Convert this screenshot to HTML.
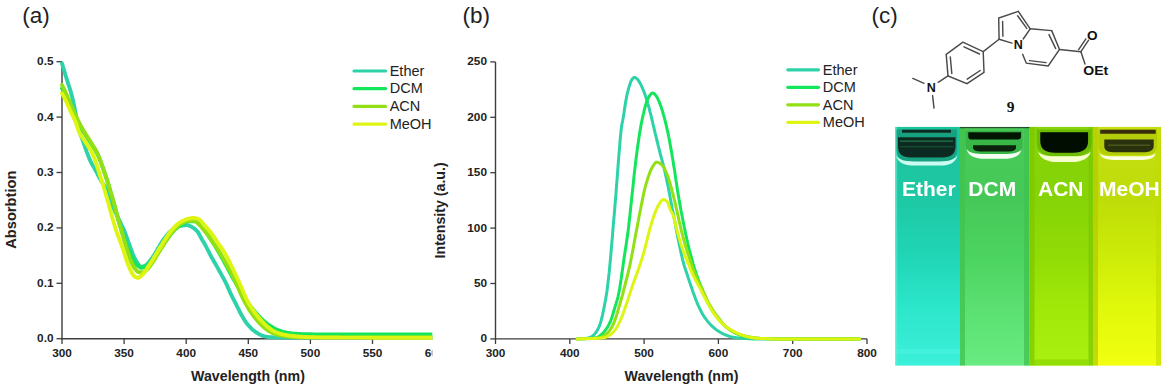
<!DOCTYPE html>
<html><head><meta charset="utf-8">
<style>
html,body{margin:0;padding:0;background:#fff;}
body{width:1166px;height:389px;position:relative;overflow:hidden;font-family:"Liberation Sans",sans-serif;}
.abs{position:absolute;left:0;top:0;}
.tk{font-family:"Liberation Sans",sans-serif;font-weight:bold;font-size:11.8px;fill:#222;}
.al{font-family:"Liberation Sans",sans-serif;font-weight:bold;font-size:14.2px;fill:#222;}
.lg{font-family:"Liberation Sans",sans-serif;font-size:14.5px;fill:#222;}
.pl{font-family:"Liberation Sans",sans-serif;font-size:22.5px;fill:#222;}
.at{font-family:"Liberation Sans",sans-serif;font-weight:bold;font-size:12.5px;fill:#111;}
.at2{font-family:"Liberation Sans",sans-serif;font-weight:bold;font-size:13.6px;fill:#111;}
.nine{font-family:"Liberation Serif",serif;font-weight:bold;font-size:15.5px;fill:#111;}
.photo{position:absolute;left:895px;top:127px;width:266px;height:238px;overflow:hidden;}
.cv{position:absolute;top:0;height:238px;}
.men{position:absolute;}
.hl{position:absolute;box-sizing:border-box;}
.wall{position:absolute;top:0;height:238px;width:5px;}
.lab{position:absolute;top:51px;font-family:"Liberation Sans",sans-serif;font-weight:bold;font-size:19.8px;color:#fff;line-height:20px;}
</style></head><body>
<svg class="abs" width="1166" height="389" viewBox="0 0 1166 389">
<defs><clipPath id="ca"><rect x="0" y="0" width="432.3" height="389"/></clipPath></defs>
<g clip-path="url(#ca)">
<line x1="62" y1="61.7" x2="62" y2="339.2" stroke="#3d3d3d" stroke-width="1.4"/>
<line x1="62" y1="338.7" x2="433" y2="338.7" stroke="#3d3d3d" stroke-width="1.4"/>
<line x1="56.5" y1="338.7" x2="62" y2="338.7" stroke="#3d3d3d" stroke-width="1.3"/>
<text x="53.5" y="342.1" text-anchor="end" class="tk">0.0</text>
<line x1="56.5" y1="283.3" x2="62" y2="283.3" stroke="#3d3d3d" stroke-width="1.3"/>
<text x="53.5" y="286.7" text-anchor="end" class="tk">0.1</text>
<line x1="56.5" y1="227.9" x2="62" y2="227.9" stroke="#3d3d3d" stroke-width="1.3"/>
<text x="53.5" y="231.3" text-anchor="end" class="tk">0.2</text>
<line x1="56.5" y1="172.5" x2="62" y2="172.5" stroke="#3d3d3d" stroke-width="1.3"/>
<text x="53.5" y="175.9" text-anchor="end" class="tk">0.3</text>
<line x1="56.5" y1="117.1" x2="62" y2="117.1" stroke="#3d3d3d" stroke-width="1.3"/>
<text x="53.5" y="120.5" text-anchor="end" class="tk">0.4</text>
<line x1="56.5" y1="61.7" x2="62" y2="61.7" stroke="#3d3d3d" stroke-width="1.3"/>
<text x="53.5" y="65.1" text-anchor="end" class="tk">0.5</text>
<line x1="62.0" y1="338.7" x2="62.0" y2="344" stroke="#3d3d3d" stroke-width="1.3"/>
<text x="62.0" y="357.3" text-anchor="middle" class="tk">300</text>
<line x1="124.1" y1="338.7" x2="124.1" y2="344" stroke="#3d3d3d" stroke-width="1.3"/>
<text x="124.1" y="357.3" text-anchor="middle" class="tk">350</text>
<line x1="186.2" y1="338.7" x2="186.2" y2="344" stroke="#3d3d3d" stroke-width="1.3"/>
<text x="186.2" y="357.3" text-anchor="middle" class="tk">400</text>
<line x1="248.3" y1="338.7" x2="248.3" y2="344" stroke="#3d3d3d" stroke-width="1.3"/>
<text x="248.3" y="357.3" text-anchor="middle" class="tk">450</text>
<line x1="310.4" y1="338.7" x2="310.4" y2="344" stroke="#3d3d3d" stroke-width="1.3"/>
<text x="310.4" y="357.3" text-anchor="middle" class="tk">500</text>
<line x1="372.5" y1="338.7" x2="372.5" y2="344" stroke="#3d3d3d" stroke-width="1.3"/>
<text x="372.5" y="357.3" text-anchor="middle" class="tk">550</text>
<line x1="434.6" y1="338.7" x2="434.6" y2="344" stroke="#3d3d3d" stroke-width="1.3"/>
<text x="434.6" y="357.3" text-anchor="middle" class="tk">600</text>
<polyline points="62.0,63.4 63.2,67.5 64.5,71.7 65.7,75.8 67.0,79.8 68.2,83.9 69.5,87.7 70.7,91.5 71.9,95.9 73.2,101.3 74.4,107.1 75.7,113.6 76.9,120.6 78.1,126.7 79.4,131.2 80.6,134.8 81.9,138.1 83.1,141.5 84.4,145.1 85.6,148.7 86.8,152.1 88.1,155.4 89.3,158.6 90.6,161.4 91.8,163.8 93.0,166.0 94.3,168.0 95.5,170.2 96.8,172.5 98.0,175.1 99.3,177.5 100.5,179.6 101.7,181.7 103.0,183.7 104.2,185.8 105.5,188.0 106.7,190.3 108.0,193.0 109.2,197.1 110.4,201.3 111.7,204.4 112.9,207.0 114.2,209.6 115.4,212.2 116.6,214.8 117.9,217.4 119.1,220.0 120.4,222.5 121.6,225.1 122.9,227.7 124.1,230.3 125.3,233.4 126.6,236.9 127.8,240.5 129.1,244.0 130.3,247.5 131.6,250.8 132.8,253.9 134.0,256.8 135.3,259.5 136.5,261.7 137.8,263.6 139.0,265.4 140.2,266.5 141.5,266.6 142.7,266.4 144.0,266.0 145.2,265.6 146.5,264.8 147.7,263.6 148.9,262.1 150.2,260.6 151.4,259.0 152.7,257.1 153.9,255.2 155.2,253.2 156.4,251.2 157.6,249.1 158.9,247.0 160.1,244.8 161.4,242.7 162.6,240.8 163.8,239.0 165.1,237.4 166.3,235.8 167.6,234.3 168.8,232.9 170.1,231.7 171.3,230.7 172.5,229.7 173.8,228.8 175.0,227.9 176.3,227.2 177.5,226.6 178.7,226.2 180.0,226.0 181.2,225.7 182.5,225.5 183.7,225.3 185.0,225.2 186.2,225.1 187.4,225.1 188.7,225.4 189.9,226.0 191.2,226.6 192.4,227.3 193.7,228.1 194.9,229.0 196.1,230.1 197.4,231.4 198.6,233.2 199.9,235.6 201.1,237.9 202.3,240.0 203.6,242.1 204.8,244.3 206.1,246.6 207.3,249.0 208.6,251.4 209.8,253.9 211.0,256.2 212.3,258.4 213.5,260.6 214.8,262.7 216.0,264.9 217.2,267.1 218.5,269.4 219.7,271.6 221.0,273.9 222.2,276.1 223.5,278.4 224.7,280.6 225.9,283.0 227.2,285.7 228.4,288.5 229.7,291.4 230.9,294.2 232.2,296.7 233.4,299.1 234.6,301.4 235.9,303.8 237.1,306.3 238.4,308.8 239.6,311.3 240.8,313.8 242.1,316.0 243.3,318.1 244.6,320.2 245.8,322.1 247.1,323.8 248.3,325.2 249.5,326.5 250.8,327.9 252.0,329.2 253.3,330.3 254.5,331.2 255.8,332.1 257.0,332.9 258.2,333.7 259.5,334.3 260.7,334.9 262.0,335.5 263.2,336.0 264.4,336.3 265.7,336.6 266.9,336.9 268.2,337.0 269.4,337.2 270.7,337.2 271.9,337.3 273.1,337.4 274.4,337.4 275.6,337.5 276.9,337.5 278.1,337.5 279.4,337.5 280.6,337.6 281.8,337.6 283.1,337.6 284.3,337.6 285.6,337.6 286.8,337.6 288.0,337.6 289.3,337.6 290.5,337.6 291.8,337.6 293.0,337.6 294.3,337.6 295.5,337.6 296.7,337.6 298.0,337.6 299.2,337.6 300.5,337.6 301.7,337.6 302.9,337.6 304.2,337.6 305.4,337.6 306.7,337.6 307.9,337.6 309.2,337.6 310.4,337.6 311.6,337.6 312.9,337.6 314.1,337.6 315.4,337.6 316.6,337.6 317.9,337.6 319.1,337.6 320.3,337.6 321.6,337.6 322.8,337.6 324.1,337.6 325.3,337.6 326.5,337.6 327.8,337.6 329.0,337.6 330.3,337.6 331.5,337.6 332.8,337.6 334.0,337.6 335.2,337.6 336.5,337.6 337.7,337.6 339.0,337.6 340.2,337.6 341.4,337.6 342.7,337.6 343.9,337.6 345.2,337.6 346.4,337.6 347.7,337.6 348.9,337.6 350.1,337.6 351.4,337.6 352.6,337.6 353.9,337.6 355.1,337.6 356.4,337.6 357.6,337.6 358.8,337.6 360.1,337.6 361.3,337.6 362.6,337.6 363.8,337.6 365.0,337.6 366.3,337.6 367.5,337.6 368.8,337.6 370.0,337.6 371.3,337.6 372.5,337.6 373.7,337.6 375.0,337.6 376.2,337.6 377.5,337.6 378.7,337.6 380.0,337.6 381.2,337.6 382.4,337.6 383.7,337.6 384.9,337.6 386.2,337.6 387.4,337.6 388.6,337.6 389.9,337.6 391.1,337.6 392.4,337.6 393.6,337.6 394.9,337.6 396.1,337.6 397.3,337.6 398.6,337.6 399.8,337.6 401.1,337.6 402.3,337.6 403.6,337.6 404.8,337.6 406.0,337.6 407.3,337.6 408.5,337.6 409.8,337.6 411.0,337.6 412.2,337.6 413.5,337.6 414.7,337.6 416.0,337.6 417.2,337.6 418.5,337.6 419.7,337.6 420.9,337.6 422.2,337.6 423.4,337.6 424.7,337.6 425.9,337.6 427.1,337.6 428.4,337.6 429.6,337.6 430.9,337.6 432.1,337.6 433.4,337.6 434.6,337.6" fill="none" stroke="#2dd2a8" stroke-width="3.9" stroke-linejoin="round" stroke-linecap="round"/><polyline points="62.0,88.3 63.2,90.3 64.5,92.6 65.7,94.9 67.0,97.6 68.2,100.4 69.5,103.2 70.7,106.0 71.9,108.7 73.2,111.3 74.4,114.0 75.7,116.5 76.9,119.1 78.1,121.7 79.4,124.2 80.6,126.5 81.9,128.8 83.1,130.9 84.4,133.0 85.6,135.0 86.8,137.0 88.1,139.0 89.3,140.9 90.6,142.8 91.8,144.8 93.0,146.7 94.3,148.6 95.5,150.6 96.8,152.8 98.0,155.2 99.3,158.1 100.5,161.2 101.7,164.6 103.0,168.1 104.2,171.8 105.5,175.5 106.7,179.2 108.0,183.1 109.2,187.1 110.4,191.3 111.7,195.5 112.9,199.8 114.2,204.2 115.4,208.8 116.6,213.5 117.9,218.1 119.1,222.6 120.4,226.8 121.6,230.8 122.9,234.8 124.1,238.6 125.3,242.2 126.6,245.7 127.8,248.9 129.1,252.0 130.3,254.8 131.6,257.3 132.8,259.4 134.0,261.4 135.3,263.1 136.5,264.5 137.8,265.6 139.0,266.7 140.2,267.5 141.5,267.8 142.7,267.6 144.0,267.3 145.2,266.7 146.5,266.1 147.7,265.3 148.9,264.2 150.2,262.9 151.4,261.5 152.7,260.0 153.9,258.5 155.2,256.7 156.4,254.9 157.6,253.0 158.9,251.2 160.1,249.3 161.4,247.4 162.6,245.5 163.8,243.7 165.1,241.8 166.3,240.1 167.6,238.4 168.8,236.7 170.1,235.0 171.3,233.5 172.5,232.0 173.8,230.7 175.0,229.5 176.3,228.3 177.5,227.2 178.7,226.2 180.0,225.4 181.2,224.6 182.5,223.8 183.7,223.1 185.0,222.4 186.2,221.8 187.4,221.4 188.7,221.3 189.9,221.3 191.2,221.3 192.4,221.3 193.7,221.3 194.9,221.3 196.1,221.6 197.4,222.4 198.6,223.5 199.9,224.6 201.1,225.8 202.3,227.3 203.6,228.9 204.8,230.6 206.1,232.3 207.3,234.1 208.6,235.9 209.8,237.9 211.0,239.8 212.3,241.8 213.5,243.7 214.8,245.6 216.0,247.6 217.2,249.7 218.5,251.7 219.7,253.9 221.0,256.0 222.2,258.3 223.5,260.5 224.7,262.8 225.9,265.1 227.2,267.4 228.4,269.8 229.7,272.1 230.9,274.4 232.2,276.7 233.4,278.9 234.6,281.1 235.9,283.3 237.1,285.4 238.4,287.5 239.6,289.6 240.8,291.6 242.1,293.6 243.3,295.6 244.6,297.5 245.8,299.4 247.1,301.2 248.3,303.1 249.5,304.9 250.8,306.6 252.0,308.2 253.3,309.7 254.5,311.2 255.8,312.7 257.0,314.1 258.2,315.5 259.5,316.9 260.7,318.2 262.0,319.4 263.2,320.5 264.4,321.6 265.7,322.6 266.9,323.6 268.2,324.5 269.4,325.4 270.7,326.2 271.9,327.0 273.1,327.7 274.4,328.4 275.6,329.0 276.9,329.6 278.1,330.1 279.4,330.6 280.6,331.0 281.8,331.4 283.1,331.8 284.3,332.1 285.6,332.4 286.8,332.7 288.0,332.9 289.3,333.2 290.5,333.3 291.8,333.5 293.0,333.6 294.3,333.7 295.5,333.8 296.7,333.8 298.0,333.9 299.2,334.0 300.5,334.0 301.7,334.1 302.9,334.1 304.2,334.2 305.4,334.2 306.7,334.2 307.9,334.3 309.2,334.3 310.4,334.3 311.6,334.3 312.9,334.4 314.1,334.4 315.4,334.4 316.6,334.4 317.9,334.4 319.1,334.4 320.3,334.4 321.6,334.4 322.8,334.4 324.1,334.4 325.3,334.4 326.5,334.5 327.8,334.5 329.0,334.5 330.3,334.5 331.5,334.5 332.8,334.5 334.0,334.5 335.2,334.5 336.5,334.5 337.7,334.5 339.0,334.5 340.2,334.5 341.4,334.5 342.7,334.5 343.9,334.5 345.2,334.5 346.4,334.5 347.7,334.5 348.9,334.5 350.1,334.5 351.4,334.5 352.6,334.5 353.9,334.5 355.1,334.5 356.4,334.5 357.6,334.5 358.8,334.5 360.1,334.5 361.3,334.5 362.6,334.5 363.8,334.5 365.0,334.5 366.3,334.5 367.5,334.5 368.8,334.5 370.0,334.5 371.3,334.5 372.5,334.5 373.7,334.5 375.0,334.5 376.2,334.5 377.5,334.5 378.7,334.5 380.0,334.5 381.2,334.5 382.4,334.5 383.7,334.5 384.9,334.5 386.2,334.5 387.4,334.5 388.6,334.5 389.9,334.5 391.1,334.5 392.4,334.5 393.6,334.5 394.9,334.5 396.1,334.5 397.3,334.5 398.6,334.5 399.8,334.5 401.1,334.5 402.3,334.5 403.6,334.5 404.8,334.5 406.0,334.5 407.3,334.5 408.5,334.5 409.8,334.5 411.0,334.5 412.2,334.5 413.5,334.5 414.7,334.5 416.0,334.5 417.2,334.5 418.5,334.5 419.7,334.5 420.9,334.5 422.2,334.5 423.4,334.5 424.7,334.5 425.9,334.5 427.1,334.5 428.4,334.5 429.6,334.5 430.9,334.5 432.1,334.5 433.4,334.5 434.6,334.5" fill="none" stroke="#14e65c" stroke-width="3.9" stroke-linejoin="round" stroke-linecap="round"/><polyline points="62.0,85.0 63.2,87.5 64.5,90.0 65.7,92.7 67.0,95.6 68.2,98.5 69.5,101.5 70.7,104.4 71.9,107.2 73.2,110.0 74.4,112.8 75.7,115.4 76.9,118.0 78.1,120.6 79.4,123.1 80.6,125.4 81.9,127.6 83.1,129.8 84.4,131.9 85.6,133.9 86.8,135.9 88.1,137.9 89.3,139.8 90.6,141.7 91.8,143.7 93.0,145.7 94.3,147.7 95.5,149.8 96.8,152.2 98.0,154.7 99.3,157.7 100.5,160.9 101.7,164.4 103.0,168.0 104.2,171.7 105.5,175.5 106.7,179.2 108.0,183.1 109.2,187.2 110.4,191.3 111.7,195.5 112.9,199.8 114.2,204.1 115.4,208.7 116.6,213.3 117.9,217.9 119.1,222.5 120.4,226.9 121.6,231.2 122.9,235.6 124.1,239.8 125.3,244.0 126.6,248.1 127.8,252.0 129.1,256.0 130.3,259.6 131.6,262.6 132.8,265.3 134.0,267.5 135.3,269.1 136.5,270.6 137.8,271.8 139.0,272.2 140.2,272.2 141.5,272.2 142.7,272.2 144.0,271.9 145.2,271.1 146.5,270.0 147.7,268.9 148.9,267.6 150.2,265.9 151.4,264.1 152.7,262.2 153.9,260.4 155.2,258.4 156.4,256.3 157.6,254.3 158.9,252.3 160.1,250.3 161.4,248.3 162.6,246.4 163.8,244.4 165.1,242.5 166.3,240.6 167.6,238.8 168.8,236.9 170.1,235.0 171.3,233.2 172.5,231.6 173.8,230.1 175.0,228.8 176.3,227.5 177.5,226.3 178.7,225.2 180.0,224.2 181.2,223.5 182.5,222.8 183.7,222.2 185.0,221.6 186.2,221.1 187.4,220.8 188.7,220.7 189.9,220.7 191.2,220.7 192.4,220.7 193.7,220.7 194.9,221.0 196.1,221.8 197.4,222.9 198.6,224.0 199.9,225.2 201.1,226.6 202.3,228.1 203.6,229.6 204.8,231.0 206.1,232.5 207.3,234.1 208.6,235.8 209.8,237.6 211.0,239.6 212.3,241.5 213.5,243.4 214.8,245.2 216.0,247.0 217.2,248.7 218.5,250.5 219.7,252.4 221.0,254.5 222.2,256.6 223.5,258.9 224.7,261.1 225.9,263.4 227.2,265.5 228.4,267.7 229.7,269.9 230.9,272.2 232.2,274.7 233.4,277.3 234.6,280.0 235.9,282.7 237.1,285.5 238.4,288.3 239.6,291.1 240.8,293.9 242.1,296.6 243.3,299.1 244.6,301.5 245.8,303.8 247.1,306.0 248.3,308.1 249.5,310.2 250.8,312.1 252.0,313.9 253.3,315.6 254.5,317.2 255.8,318.8 257.0,320.2 258.2,321.7 259.5,323.0 260.7,324.3 262.0,325.5 263.2,326.7 264.4,327.7 265.7,328.7 266.9,329.7 268.2,330.6 269.4,331.4 270.7,332.1 271.9,332.7 273.1,333.2 274.4,333.7 275.6,334.2 276.9,334.5 278.1,334.9 279.4,335.2 280.6,335.4 281.8,335.7 283.1,335.9 284.3,336.0 285.6,336.2 286.8,336.4 288.0,336.5 289.3,336.6 290.5,336.8 291.8,336.9 293.0,336.9 294.3,337.0 295.5,337.1 296.7,337.1 298.0,337.2 299.2,337.2 300.5,337.3 301.7,337.3 302.9,337.3 304.2,337.3 305.4,337.3 306.7,337.3 307.9,337.3 309.2,337.3 310.4,337.3 311.6,337.3 312.9,337.3 314.1,337.3 315.4,337.3 316.6,337.4 317.9,337.4 319.1,337.4 320.3,337.4 321.6,337.4 322.8,337.4 324.1,337.4 325.3,337.4 326.5,337.4 327.8,337.4 329.0,337.4 330.3,337.4 331.5,337.4 332.8,337.4 334.0,337.4 335.2,337.4 336.5,337.4 337.7,337.4 339.0,337.4 340.2,337.4 341.4,337.4 342.7,337.4 343.9,337.4 345.2,337.4 346.4,337.4 347.7,337.4 348.9,337.4 350.1,337.4 351.4,337.4 352.6,337.4 353.9,337.4 355.1,337.4 356.4,337.4 357.6,337.4 358.8,337.4 360.1,337.4 361.3,337.4 362.6,337.4 363.8,337.4 365.0,337.4 366.3,337.4 367.5,337.5 368.8,337.5 370.0,337.5 371.3,337.5 372.5,337.5 373.7,337.5 375.0,337.5 376.2,337.5 377.5,337.5 378.7,337.5 380.0,337.5 381.2,337.5 382.4,337.5 383.7,337.5 384.9,337.5 386.2,337.5 387.4,337.5 388.6,337.5 389.9,337.5 391.1,337.5 392.4,337.5 393.6,337.5 394.9,337.5 396.1,337.5 397.3,337.5 398.6,337.5 399.8,337.5 401.1,337.5 402.3,337.5 403.6,337.5 404.8,337.5 406.0,337.5 407.3,337.5 408.5,337.5 409.8,337.5 411.0,337.5 412.2,337.5 413.5,337.5 414.7,337.5 416.0,337.5 417.2,337.5 418.5,337.5 419.7,337.5 420.9,337.5 422.2,337.5 423.4,337.5 424.7,337.5 425.9,337.5 427.1,337.5 428.4,337.5 429.6,337.5 430.9,337.5 432.1,337.5 433.4,337.5 434.6,337.5" fill="none" stroke="#92e014" stroke-width="3.9" stroke-linejoin="round" stroke-linecap="round"/><polyline points="62.0,93.3 63.2,95.6 64.5,98.0 65.7,100.5 67.0,103.2 68.2,106.0 69.5,108.8 70.7,111.5 71.9,114.1 73.2,116.6 74.4,119.2 75.7,122.1 76.9,125.7 78.1,129.5 79.4,132.6 80.6,134.9 81.9,136.9 83.1,138.7 84.4,140.5 85.6,142.4 86.8,144.3 88.1,146.0 89.3,147.9 90.6,149.8 91.8,152.1 93.0,154.7 94.3,157.9 95.5,161.4 96.8,165.2 98.0,169.2 99.3,173.1 100.5,177.0 101.7,180.9 103.0,184.8 104.2,188.9 105.5,193.0 106.7,197.2 108.0,201.5 109.2,206.0 110.4,210.7 111.7,215.5 112.9,220.0 114.2,224.3 115.4,228.2 116.6,231.9 117.9,235.3 119.1,238.7 120.4,242.0 121.6,245.4 122.9,249.0 124.1,252.7 125.3,256.7 126.6,260.5 127.8,263.9 129.1,267.1 130.3,269.9 131.6,272.3 132.8,274.5 134.0,276.2 135.3,277.0 136.5,277.5 137.8,277.8 139.0,277.4 140.2,276.6 141.5,275.5 142.7,274.4 144.0,272.9 145.2,271.2 146.5,269.3 147.7,267.4 148.9,265.6 150.2,263.7 151.4,261.7 152.7,259.7 153.9,257.6 155.2,255.6 156.4,253.6 157.6,251.5 158.9,249.4 160.1,247.4 161.4,245.4 162.6,243.4 163.8,241.5 165.1,239.5 166.3,237.6 167.6,235.7 168.8,233.9 170.1,232.2 171.3,230.7 172.5,229.2 173.8,227.9 175.0,226.5 176.3,225.3 177.5,224.2 178.7,223.2 180.0,222.4 181.2,221.6 182.5,221.0 183.7,220.4 185.0,219.8 186.2,219.4 187.4,219.0 188.7,218.7 189.9,218.4 191.2,218.2 192.4,218.0 193.7,217.9 194.9,218.0 196.1,218.3 197.4,218.8 198.6,219.3 199.9,220.0 201.1,221.1 202.3,222.6 203.6,224.2 204.8,225.7 206.1,227.0 207.3,228.4 208.6,229.8 209.8,231.2 211.0,232.7 212.3,234.3 213.5,236.0 214.8,237.9 216.0,239.9 217.2,241.8 218.5,243.6 219.7,245.3 221.0,247.1 222.2,249.0 223.5,250.9 224.7,253.0 225.9,255.2 227.2,257.5 228.4,259.8 229.7,262.2 230.9,264.8 232.2,267.4 233.4,270.0 234.6,272.6 235.9,275.1 237.1,277.8 238.4,280.5 239.6,283.2 240.8,286.1 242.1,289.0 243.3,292.0 244.6,294.9 245.8,297.7 247.1,300.3 248.3,302.7 249.5,304.8 250.8,306.8 252.0,308.6 253.3,310.4 254.5,312.2 255.8,313.9 257.0,315.5 258.2,317.1 259.5,318.6 260.7,320.0 262.0,321.3 263.2,322.6 264.4,323.9 265.7,325.1 266.9,326.3 268.2,327.3 269.4,328.3 270.7,329.2 271.9,330.1 273.1,330.8 274.4,331.4 275.6,332.0 276.9,332.5 278.1,333.0 279.4,333.4 280.6,333.8 281.8,334.1 283.1,334.4 284.3,334.7 285.6,334.9 286.8,335.2 288.0,335.4 289.3,335.6 290.5,335.7 291.8,335.9 293.0,336.0 294.3,336.2 295.5,336.3 296.7,336.4 298.0,336.5 299.2,336.6 300.5,336.7 301.7,336.8 302.9,336.9 304.2,336.9 305.4,337.0 306.7,337.0 307.9,337.1 309.2,337.1 310.4,337.2 311.6,337.2 312.9,337.3 314.1,337.3 315.4,337.4 316.6,337.4 317.9,337.4 319.1,337.4 320.3,337.5 321.6,337.5 322.8,337.5 324.1,337.5 325.3,337.5 326.5,337.5 327.8,337.5 329.0,337.5 330.3,337.5 331.5,337.5 332.8,337.5 334.0,337.5 335.2,337.5 336.5,337.5 337.7,337.5 339.0,337.5 340.2,337.6 341.4,337.6 342.7,337.6 343.9,337.6 345.2,337.6 346.4,337.6 347.7,337.6 348.9,337.6 350.1,337.6 351.4,337.6 352.6,337.6 353.9,337.6 355.1,337.6 356.4,337.6 357.6,337.6 358.8,337.6 360.1,337.6 361.3,337.6 362.6,337.6 363.8,337.6 365.0,337.6 366.3,337.6 367.5,337.6 368.8,337.6 370.0,337.6 371.3,337.6 372.5,337.6 373.7,337.6 375.0,337.7 376.2,337.7 377.5,337.7 378.7,337.7 380.0,337.7 381.2,337.7 382.4,337.7 383.7,337.7 384.9,337.7 386.2,337.7 387.4,337.7 388.6,337.7 389.9,337.7 391.1,337.7 392.4,337.7 393.6,337.7 394.9,337.7 396.1,337.7 397.3,337.7 398.6,337.7 399.8,337.7 401.1,337.7 402.3,337.7 403.6,337.7 404.8,337.7 406.0,337.7 407.3,337.7 408.5,337.7 409.8,337.7 411.0,337.7 412.2,337.7 413.5,337.7 414.7,337.7 416.0,337.7 417.2,337.7 418.5,337.7 419.7,337.7 420.9,337.7 422.2,337.7 423.4,337.7 424.7,337.7 425.9,337.7 427.1,337.7 428.4,337.7 429.6,337.7 430.9,337.7 432.1,337.7 433.4,337.7 434.6,337.7" fill="none" stroke="#def514" stroke-width="3.9" stroke-linejoin="round" stroke-linecap="round"/>
<text x="22.3" y="22.5" class="pl">(a)</text>
<text x="248" y="380.5" text-anchor="middle" class="al">Wavelength (nm)</text>
<text transform="translate(16.0,209.7) rotate(-90)" text-anchor="middle" class="al" style="font-size:14.7px">Absorbtion</text>
<line x1="354.0" y1="71.0" x2="385.5" y2="71.0" stroke="#2dd2a8" stroke-width="3.2" stroke-linecap="round"/>
<text x="389.7" y="75.7" class="lg">Ether</text>
<line x1="354.0" y1="88.7" x2="385.5" y2="88.7" stroke="#14e65c" stroke-width="3.2" stroke-linecap="round"/>
<text x="389.7" y="93.4" class="lg">DCM</text>
<line x1="354.0" y1="106.4" x2="385.5" y2="106.4" stroke="#92e014" stroke-width="3.2" stroke-linecap="round"/>
<text x="389.7" y="111.1" class="lg">ACN</text>
<line x1="354.0" y1="124.1" x2="385.5" y2="124.1" stroke="#def514" stroke-width="3.2" stroke-linecap="round"/>
<text x="389.7" y="128.8" class="lg">MeOH</text>
</g>
</svg>
<svg class="abs" width="1166" height="389" viewBox="0 0 1166 389">
<line x1="495.5" y1="61.9" x2="495.5" y2="339.4" stroke="#3d3d3d" stroke-width="1.4"/>
<line x1="495.5" y1="338.9" x2="867.2" y2="338.9" stroke="#3d3d3d" stroke-width="1.4"/>
<line x1="490.3" y1="338.9" x2="495.5" y2="338.9" stroke="#3d3d3d" stroke-width="1.3"/>
<text x="487" y="342.3" text-anchor="end" class="tk">0</text>
<line x1="490.3" y1="283.5" x2="495.5" y2="283.5" stroke="#3d3d3d" stroke-width="1.3"/>
<text x="487" y="286.9" text-anchor="end" class="tk">50</text>
<line x1="490.3" y1="228.1" x2="495.5" y2="228.1" stroke="#3d3d3d" stroke-width="1.3"/>
<text x="487" y="231.5" text-anchor="end" class="tk">100</text>
<line x1="490.3" y1="172.7" x2="495.5" y2="172.7" stroke="#3d3d3d" stroke-width="1.3"/>
<text x="487" y="176.1" text-anchor="end" class="tk">150</text>
<line x1="490.3" y1="117.3" x2="495.5" y2="117.3" stroke="#3d3d3d" stroke-width="1.3"/>
<text x="487" y="120.7" text-anchor="end" class="tk">200</text>
<line x1="490.3" y1="61.9" x2="495.5" y2="61.9" stroke="#3d3d3d" stroke-width="1.3"/>
<text x="487" y="65.3" text-anchor="end" class="tk">250</text>
<line x1="495.5" y1="338.9" x2="495.5" y2="344" stroke="#3d3d3d" stroke-width="1.3"/>
<text x="495.5" y="357.3" text-anchor="middle" class="tk">300</text>
<line x1="569.8" y1="338.9" x2="569.8" y2="344" stroke="#3d3d3d" stroke-width="1.3"/>
<text x="569.8" y="357.3" text-anchor="middle" class="tk">400</text>
<line x1="644.1" y1="338.9" x2="644.1" y2="344" stroke="#3d3d3d" stroke-width="1.3"/>
<text x="644.1" y="357.3" text-anchor="middle" class="tk">500</text>
<line x1="718.4" y1="338.9" x2="718.4" y2="344" stroke="#3d3d3d" stroke-width="1.3"/>
<text x="718.4" y="357.3" text-anchor="middle" class="tk">600</text>
<line x1="792.7" y1="338.9" x2="792.7" y2="344" stroke="#3d3d3d" stroke-width="1.3"/>
<text x="792.7" y="357.3" text-anchor="middle" class="tk">700</text>
<line x1="867.0" y1="338.9" x2="867.0" y2="344" stroke="#3d3d3d" stroke-width="1.3"/>
<text x="867.0" y="357.3" text-anchor="middle" class="tk">800</text>
<polyline points="577.2,338.9 578.0,338.8 578.7,338.8 579.5,338.8 580.2,338.8 580.9,338.7 581.7,338.7 582.4,338.7 583.2,338.6 583.9,338.6 584.7,338.6 585.4,338.5 586.1,338.4 586.9,338.3 587.6,338.1 588.4,337.9 589.1,337.7 589.9,337.5 590.6,337.2 591.3,336.9 592.1,336.4 592.8,335.8 593.6,335.2 594.3,334.5 595.1,333.6 595.8,332.7 596.5,331.5 597.3,330.3 598.0,328.9 598.8,327.4 599.5,325.6 600.3,323.5 601.0,321.2 601.7,318.4 602.5,315.1 603.2,311.6 604.0,307.9 604.7,304.1 605.5,300.2 606.2,295.8 607.0,290.9 607.7,285.4 608.4,279.2 609.2,272.4 609.9,264.8 610.7,256.3 611.4,247.5 612.2,238.8 612.9,230.2 613.6,221.5 614.4,212.8 615.1,203.9 615.9,194.9 616.6,185.2 617.4,175.2 618.1,165.4 618.8,156.1 619.6,147.0 620.3,138.1 621.1,130.4 621.8,124.7 622.6,121.0 623.3,117.3 624.0,112.7 624.8,107.6 625.5,102.7 626.3,98.5 627.0,94.9 627.8,91.7 628.5,88.8 629.2,86.3 630.0,84.0 630.7,82.0 631.5,80.2 632.2,79.1 633.0,78.3 633.7,77.7 634.4,77.4 635.2,77.6 635.9,78.0 636.7,78.5 637.4,79.2 638.2,80.1 638.9,81.2 639.6,82.4 640.4,83.7 641.1,85.2 641.9,86.8 642.6,88.5 643.4,90.3 644.1,92.1 644.8,94.1 645.6,96.2 646.3,98.5 647.1,101.0 647.8,103.6 648.6,106.2 649.3,108.9 650.0,111.8 650.8,114.7 651.5,117.7 652.3,120.9 653.0,124.1 653.8,127.3 654.5,130.4 655.2,133.4 656.0,136.4 656.7,139.5 657.5,142.5 658.2,145.6 659.0,148.7 659.7,151.6 660.4,154.5 661.2,157.2 661.9,159.9 662.7,162.7 663.4,165.6 664.2,168.6 664.9,171.7 665.6,174.9 666.4,178.3 667.1,181.9 667.9,185.6 668.6,189.3 669.4,193.1 670.1,197.0 670.8,200.9 671.6,204.8 672.3,208.7 673.1,212.6 673.8,216.5 674.6,220.3 675.3,224.2 676.0,228.2 676.8,232.1 677.5,235.9 678.3,239.6 679.0,243.2 679.8,246.8 680.5,250.3 681.2,253.6 682.0,257.0 682.7,260.1 683.5,263.0 684.2,265.6 685.0,268.0 685.7,270.2 686.5,272.4 687.2,274.6 687.9,276.9 688.7,279.2 689.4,281.4 690.2,283.6 690.9,285.8 691.7,287.9 692.4,290.1 693.1,292.2 693.9,294.3 694.6,296.4 695.4,298.4 696.1,300.4 696.9,302.2 697.6,304.0 698.3,305.7 699.1,307.3 699.8,308.8 700.6,310.3 701.3,311.8 702.1,313.2 702.8,314.4 703.5,315.6 704.3,316.8 705.0,317.8 705.8,318.9 706.5,319.9 707.3,320.9 708.0,321.8 708.7,322.7 709.5,323.5 710.2,324.3 711.0,325.0 711.7,325.8 712.5,326.5 713.2,327.2 713.9,327.8 714.7,328.4 715.4,329.0 716.2,329.6 716.9,330.1 717.7,330.7 718.4,331.1 719.1,331.6 719.9,332.1 720.6,332.5 721.4,332.9 722.1,333.3 722.9,333.7 723.6,334.1 724.3,334.4 725.1,334.7 725.8,335.0 726.6,335.3 727.3,335.6 728.1,335.8 728.8,336.1 729.5,336.3 730.3,336.6 731.0,336.8 731.8,336.9 732.5,337.1 733.3,337.2 734.0,337.4 734.7,337.5 735.5,337.6 736.2,337.7 737.0,337.8 737.7,337.9 738.5,338.0 739.2,338.0 739.9,338.1 740.7,338.2 741.4,338.2 742.2,338.3 742.9,338.4 743.7,338.4 744.4,338.5 745.1,338.5 745.9,338.5 746.6,338.6 747.4,338.6 748.1,338.7 748.9,338.7 749.6,338.7 750.3,338.8 751.1,338.8 751.8,338.8 752.6,338.9 753.3,338.9 754.1,338.9 754.8,338.9 755.5,338.9 756.3,338.9 757.0,338.9 757.8,338.9 758.5,338.9 759.3,338.9 760.0,338.9 760.8,338.9 761.5,338.9 762.2,338.9 763.0,338.9 763.7,338.9 764.5,338.9 765.2,338.9 766.0,338.9 766.7,338.9 767.4,338.9 768.2,338.9 768.9,338.9 769.7,338.9 770.4,338.9 771.2,338.9 771.9,338.9 772.6,338.9 773.4,338.9 774.1,338.9 774.9,338.9 775.6,338.9 776.4,338.9 777.1,338.9 777.8,338.9 778.6,338.9 779.3,338.9 780.1,338.9 780.8,338.9 781.6,338.9 782.3,338.9 783.0,338.9 783.8,338.9 784.5,338.9 785.3,338.9 786.0,338.9 786.8,338.9 787.5,338.9 788.2,338.9 789.0,338.9 789.7,338.9 790.5,338.9 791.2,338.9 792.0,338.9 792.7,338.9 793.4,338.9 794.2,338.9 794.9,338.9 795.7,338.9 796.4,338.9 797.2,338.9 797.9,338.9 798.6,338.9 799.4,338.9 800.1,338.9 800.9,338.9 801.6,338.9 802.4,338.9 803.1,338.9 803.8,338.9 804.6,338.9 805.3,338.9 806.1,338.9 806.8,338.9 807.6,338.9 808.3,338.9 809.0,338.9 809.8,338.9 810.5,338.9 811.3,338.9 812.0,338.9 812.8,338.9 813.5,338.9 814.2,338.9 815.0,338.9 815.7,338.9 816.5,338.9 817.2,338.9 818.0,338.9 818.7,338.9 819.4,338.9 820.2,338.9 820.9,338.9 821.7,338.9 822.4,338.9 823.2,338.9 823.9,338.9 824.6,338.9 825.4,338.9 826.1,338.9 826.9,338.9 827.6,338.9 828.4,338.9 829.1,338.9 829.9,338.9 830.6,338.9 831.3,338.9 832.1,338.9 832.8,338.9 833.6,338.9 834.3,338.9 835.1,338.9 835.8,338.9 836.5,338.9 837.3,338.9 838.0,338.9 838.8,338.9 839.5,338.9 840.3,338.9 841.0,338.9 841.7,338.9 842.5,338.9 843.2,338.9 844.0,338.9 844.7,338.9 845.5,338.9 846.2,338.9 846.9,338.9 847.7,338.9 848.4,338.9 849.2,338.9 849.9,338.9 850.7,338.9 851.4,338.9 852.1,338.9 852.9,338.9 853.6,338.9 854.4,338.9 855.1,338.9 855.9,338.9 856.6,338.9 857.3,338.9 858.1,338.9 858.8,338.9 859.6,338.9" fill="none" stroke="#2dd2a8" stroke-width="3.0" stroke-linejoin="round" stroke-linecap="round"/><polyline points="577.2,338.9 578.0,338.9 578.7,338.8 579.5,338.8 580.2,338.8 580.9,338.8 581.7,338.8 582.4,338.7 583.2,338.7 583.9,338.7 584.7,338.7 585.4,338.7 586.1,338.6 586.9,338.6 587.6,338.6 588.4,338.5 589.1,338.5 589.9,338.4 590.6,338.4 591.3,338.3 592.1,338.2 592.8,338.2 593.6,338.1 594.3,338.0 595.1,337.9 595.8,337.8 596.5,337.6 597.3,337.3 598.0,337.0 598.8,336.6 599.5,336.1 600.3,335.6 601.0,335.0 601.7,334.4 602.5,333.7 603.2,332.9 604.0,332.0 604.7,331.0 605.5,330.0 606.2,329.0 607.0,327.9 607.7,326.7 608.4,325.4 609.2,324.0 609.9,322.5 610.7,320.8 611.4,318.8 612.2,316.6 612.9,314.1 613.6,311.5 614.4,309.0 615.1,306.6 615.9,304.2 616.6,301.8 617.4,299.2 618.1,296.3 618.8,293.0 619.6,288.8 620.3,284.2 621.1,279.3 621.8,274.2 622.6,268.8 623.3,263.6 624.0,258.5 624.8,253.6 625.5,248.8 626.3,243.8 627.0,238.8 627.8,233.6 628.5,227.9 629.2,221.5 630.0,214.5 630.7,207.4 631.5,200.4 632.2,193.4 633.0,186.4 633.7,179.4 634.4,172.7 635.2,166.3 635.9,160.0 636.7,154.0 637.4,148.3 638.2,143.0 638.9,138.0 639.6,133.2 640.4,128.7 641.1,124.6 641.9,120.8 642.6,117.2 643.4,114.0 644.1,110.9 644.8,107.9 645.6,105.2 646.3,102.9 647.1,100.9 647.8,99.0 648.6,97.5 649.3,96.2 650.0,95.2 650.8,94.2 651.5,93.4 652.3,93.0 653.0,93.0 653.8,93.4 654.5,94.0 655.2,94.8 656.0,95.7 656.7,96.7 657.5,98.0 658.2,99.6 659.0,101.3 659.7,103.2 660.4,105.1 661.2,107.1 661.9,109.4 662.7,111.8 663.4,114.4 664.2,117.1 664.9,119.9 665.6,122.8 666.4,125.9 667.1,129.2 667.9,132.6 668.6,136.3 669.4,140.0 670.1,143.9 670.8,148.0 671.6,152.3 672.3,156.7 673.1,161.3 673.8,166.0 674.6,170.6 675.3,175.5 676.0,180.5 676.8,185.4 677.5,190.3 678.3,194.9 679.0,199.2 679.8,203.4 680.5,207.5 681.2,211.5 682.0,215.4 682.7,219.2 683.5,223.0 684.2,226.8 685.0,230.5 685.7,234.1 686.5,237.5 687.2,240.8 687.9,244.0 688.7,247.1 689.4,250.1 690.2,253.0 690.9,255.8 691.7,258.5 692.4,261.2 693.1,263.9 693.9,266.4 694.6,268.9 695.4,271.3 696.1,273.5 696.9,275.7 697.6,277.8 698.3,279.8 699.1,281.7 699.8,283.6 700.6,285.4 701.3,287.2 702.1,289.0 702.8,290.8 703.5,292.6 704.3,294.4 705.0,296.2 705.8,297.9 706.5,299.6 707.3,301.2 708.0,302.8 708.7,304.3 709.5,305.7 710.2,307.0 711.0,308.3 711.7,309.5 712.5,310.7 713.2,311.9 713.9,313.0 714.7,314.1 715.4,315.1 716.2,316.1 716.9,317.1 717.7,318.1 718.4,319.0 719.1,319.8 719.9,320.7 720.6,321.5 721.4,322.3 722.1,323.1 722.9,323.9 723.6,324.6 724.3,325.3 725.1,326.0 725.8,326.6 726.6,327.2 727.3,327.8 728.1,328.4 728.8,329.0 729.5,329.5 730.3,330.0 731.0,330.6 731.8,331.1 732.5,331.5 733.3,332.0 734.0,332.4 734.7,332.9 735.5,333.2 736.2,333.6 737.0,333.9 737.7,334.2 738.5,334.5 739.2,334.8 739.9,335.1 740.7,335.3 741.4,335.6 742.2,335.8 742.9,336.1 743.7,336.3 744.4,336.5 745.1,336.7 745.9,336.8 746.6,337.0 747.4,337.1 748.1,337.2 748.9,337.3 749.6,337.5 750.3,337.5 751.1,337.6 751.8,337.7 752.6,337.8 753.3,337.9 754.1,338.0 754.8,338.0 755.5,338.1 756.3,338.2 757.0,338.2 757.8,338.3 758.5,338.3 759.3,338.3 760.0,338.4 760.8,338.4 761.5,338.5 762.2,338.5 763.0,338.5 763.7,338.6 764.5,338.6 765.2,338.6 766.0,338.6 766.7,338.7 767.4,338.7 768.2,338.7 768.9,338.7 769.7,338.8 770.4,338.8 771.2,338.8 771.9,338.8 772.6,338.8 773.4,338.9 774.1,338.9 774.9,338.9 775.6,338.9 776.4,338.9 777.1,338.9 777.8,338.9 778.6,338.9 779.3,338.9 780.1,338.9 780.8,338.9 781.6,338.9 782.3,338.9 783.0,338.9 783.8,338.9 784.5,338.9 785.3,338.9 786.0,338.9 786.8,338.9 787.5,338.9 788.2,338.9 789.0,338.9 789.7,338.9 790.5,338.9 791.2,338.9 792.0,338.9 792.7,338.9 793.4,338.9 794.2,338.9 794.9,338.9 795.7,338.9 796.4,338.9 797.2,338.9 797.9,338.9 798.6,338.9 799.4,338.9 800.1,338.9 800.9,338.9 801.6,338.9 802.4,338.9 803.1,338.9 803.8,338.9 804.6,338.9 805.3,338.9 806.1,338.9 806.8,338.9 807.6,338.9 808.3,338.9 809.0,338.9 809.8,338.9 810.5,338.9 811.3,338.9 812.0,338.9 812.8,338.9 813.5,338.9 814.2,338.9 815.0,338.9 815.7,338.9 816.5,338.9 817.2,338.9 818.0,338.9 818.7,338.9 819.4,338.9 820.2,338.9 820.9,338.9 821.7,338.9 822.4,338.9 823.2,338.9 823.9,338.9 824.6,338.9 825.4,338.9 826.1,338.9 826.9,338.9 827.6,338.9 828.4,338.9 829.1,338.9 829.9,338.9 830.6,338.9 831.3,338.9 832.1,338.9 832.8,338.9 833.6,338.9 834.3,338.9 835.1,338.9 835.8,338.9 836.5,338.9 837.3,338.9 838.0,338.9 838.8,338.9 839.5,338.9 840.3,338.9 841.0,338.9 841.7,338.9 842.5,338.9 843.2,338.9 844.0,338.9 844.7,338.9 845.5,338.9 846.2,338.9 846.9,338.9 847.7,338.9 848.4,338.9 849.2,338.9 849.9,338.9 850.7,338.9 851.4,338.9 852.1,338.9 852.9,338.9 853.6,338.9 854.4,338.9 855.1,338.9 855.9,338.9 856.6,338.9 857.3,338.9 858.1,338.9 858.8,338.9 859.6,338.9" fill="none" stroke="#14e65c" stroke-width="3.0" stroke-linejoin="round" stroke-linecap="round"/><polyline points="577.2,338.9 578.0,338.8 578.7,338.8 579.5,338.8 580.2,338.8 580.9,338.8 581.7,338.8 582.4,338.7 583.2,338.7 583.9,338.7 584.7,338.7 585.4,338.7 586.1,338.6 586.9,338.6 587.6,338.6 588.4,338.6 589.1,338.5 589.9,338.5 590.6,338.5 591.3,338.4 592.1,338.4 592.8,338.4 593.6,338.3 594.3,338.3 595.1,338.2 595.8,338.2 596.5,338.1 597.3,338.0 598.0,338.0 598.8,337.9 599.5,337.8 600.3,337.7 601.0,337.4 601.7,337.1 602.5,336.7 603.2,336.2 604.0,335.7 604.7,335.2 605.5,334.6 606.2,334.0 607.0,333.4 607.7,332.7 608.4,331.9 609.2,331.0 609.9,330.0 610.7,328.9 611.4,327.8 612.2,326.4 612.9,325.0 613.6,323.4 614.4,321.7 615.1,319.8 615.9,317.6 616.6,315.1 617.4,312.6 618.1,310.1 618.8,307.6 619.6,305.1 620.3,302.5 621.1,299.9 621.8,297.3 622.6,294.6 623.3,291.8 624.0,288.8 624.8,285.9 625.5,282.9 626.3,280.0 627.0,277.1 627.8,274.2 628.5,271.2 629.2,268.0 630.0,264.6 630.7,260.9 631.5,257.1 632.2,253.3 633.0,249.4 633.7,245.5 634.4,241.4 635.2,237.3 635.9,233.3 636.7,229.4 637.4,225.4 638.2,221.5 638.9,217.6 639.6,213.7 640.4,210.0 641.1,206.2 641.9,202.4 642.6,198.7 643.4,195.1 644.1,191.8 644.8,188.7 645.6,185.9 646.3,183.2 647.1,180.6 647.8,178.3 648.6,176.0 649.3,174.0 650.0,172.1 650.8,170.3 651.5,168.7 652.3,167.3 653.0,166.1 653.8,164.9 654.5,163.8 655.2,162.9 656.0,162.3 656.7,162.2 657.5,162.3 658.2,162.5 659.0,162.9 659.7,163.3 660.4,163.8 661.2,164.4 661.9,164.9 662.7,165.7 663.4,166.8 664.2,168.0 664.9,169.5 665.6,171.1 666.4,172.7 667.1,174.5 667.9,176.5 668.6,178.7 669.4,181.1 670.1,183.5 670.8,186.1 671.6,188.8 672.3,191.6 673.1,194.5 673.8,197.6 674.6,200.6 675.3,203.7 676.0,206.9 676.8,210.3 677.5,213.7 678.3,217.1 679.0,220.4 679.8,223.7 680.5,226.8 681.2,229.9 682.0,232.9 682.7,235.8 683.5,238.7 684.2,241.4 685.0,244.0 685.7,246.5 686.5,248.9 687.2,251.2 687.9,253.5 688.7,255.8 689.4,258.1 690.2,260.4 690.9,262.7 691.7,264.9 692.4,267.0 693.1,269.1 693.9,271.1 694.6,273.0 695.4,274.9 696.1,276.7 696.9,278.5 697.6,280.2 698.3,281.8 699.1,283.3 699.8,284.8 700.6,286.3 701.3,287.8 702.1,289.2 702.8,290.8 703.5,292.3 704.3,293.9 705.0,295.5 705.8,297.1 706.5,298.7 707.3,300.3 708.0,301.8 708.7,303.2 709.5,304.6 710.2,305.8 711.0,307.1 711.7,308.3 712.5,309.5 713.2,310.6 713.9,311.7 714.7,312.8 715.4,313.9 716.2,314.9 716.9,315.9 717.7,316.9 718.4,317.8 719.1,318.8 719.9,319.7 720.6,320.7 721.4,321.6 722.1,322.5 722.9,323.4 723.6,324.3 724.3,325.1 725.1,325.8 725.8,326.6 726.6,327.2 727.3,327.8 728.1,328.4 728.8,328.9 729.5,329.4 730.3,329.9 731.0,330.4 731.8,330.8 732.5,331.2 733.3,331.6 734.0,332.0 734.7,332.4 735.5,332.7 736.2,333.1 737.0,333.4 737.7,333.6 738.5,333.9 739.2,334.2 739.9,334.5 740.7,334.7 741.4,335.0 742.2,335.2 742.9,335.4 743.7,335.6 744.4,335.8 745.1,336.0 745.9,336.2 746.6,336.4 747.4,336.5 748.1,336.7 748.9,336.8 749.6,337.0 750.3,337.1 751.1,337.3 751.8,337.4 752.6,337.5 753.3,337.7 754.1,337.8 754.8,337.9 755.5,338.0 756.3,338.1 757.0,338.2 757.8,338.2 758.5,338.3 759.3,338.3 760.0,338.4 760.8,338.4 761.5,338.5 762.2,338.5 763.0,338.5 763.7,338.6 764.5,338.6 765.2,338.6 766.0,338.7 766.7,338.7 767.4,338.7 768.2,338.7 768.9,338.8 769.7,338.8 770.4,338.8 771.2,338.8 771.9,338.8 772.6,338.8 773.4,338.9 774.1,338.9 774.9,338.9 775.6,338.9 776.4,338.9 777.1,338.9 777.8,338.9 778.6,338.9 779.3,338.9 780.1,338.9 780.8,338.9 781.6,338.9 782.3,338.9 783.0,338.9 783.8,338.9 784.5,338.9 785.3,338.9 786.0,338.9 786.8,338.9 787.5,338.9 788.2,338.9 789.0,338.9 789.7,338.9 790.5,338.9 791.2,338.9 792.0,338.9 792.7,338.9 793.4,338.9 794.2,338.9 794.9,338.9 795.7,338.9 796.4,338.9 797.2,338.9 797.9,338.9 798.6,338.9 799.4,338.9 800.1,338.9 800.9,338.9 801.6,338.9 802.4,338.9 803.1,338.9 803.8,338.9 804.6,338.9 805.3,338.9 806.1,338.9 806.8,338.9 807.6,338.9 808.3,338.9 809.0,338.9 809.8,338.9 810.5,338.9 811.3,338.9 812.0,338.9 812.8,338.9 813.5,338.9 814.2,338.9 815.0,338.9 815.7,338.9 816.5,338.9 817.2,338.9 818.0,338.9 818.7,338.9 819.4,338.9 820.2,338.9 820.9,338.9 821.7,338.9 822.4,338.9 823.2,338.9 823.9,338.9 824.6,338.9 825.4,338.9 826.1,338.9 826.9,338.9 827.6,338.9 828.4,338.9 829.1,338.9 829.9,338.9 830.6,338.9 831.3,338.9 832.1,338.9 832.8,338.9 833.6,338.9 834.3,338.9 835.1,338.9 835.8,338.9 836.5,338.9 837.3,338.9 838.0,338.9 838.8,338.9 839.5,338.9 840.3,338.9 841.0,338.9 841.7,338.9 842.5,338.9 843.2,338.9 844.0,338.9 844.7,338.9 845.5,338.9 846.2,338.9 846.9,338.9 847.7,338.9 848.4,338.9 849.2,338.9 849.9,338.9 850.7,338.9 851.4,338.9 852.1,338.9 852.9,338.9 853.6,338.9 854.4,338.9 855.1,338.9 855.9,338.9 856.6,338.9 857.3,338.9 858.1,338.9 858.8,338.9 859.6,338.9" fill="none" stroke="#92e014" stroke-width="3.0" stroke-linejoin="round" stroke-linecap="round"/><polyline points="577.2,338.9 578.0,338.9 578.7,338.9 579.5,338.9 580.2,338.8 580.9,338.8 581.7,338.8 582.4,338.8 583.2,338.8 583.9,338.8 584.7,338.8 585.4,338.7 586.1,338.7 586.9,338.7 587.6,338.7 588.4,338.7 589.1,338.7 589.9,338.6 590.6,338.6 591.3,338.6 592.1,338.6 592.8,338.5 593.6,338.5 594.3,338.5 595.1,338.4 595.8,338.4 596.5,338.4 597.3,338.3 598.0,338.3 598.8,338.2 599.5,338.2 600.3,338.1 601.0,338.0 601.7,338.0 602.5,337.9 603.2,337.8 604.0,337.7 604.7,337.5 605.5,337.3 606.2,337.0 607.0,336.6 607.7,336.2 608.4,335.8 609.2,335.4 609.9,334.9 610.7,334.5 611.4,333.9 612.2,333.3 612.9,332.6 613.6,331.8 614.4,330.9 615.1,329.9 615.9,328.9 616.6,327.8 617.4,326.6 618.1,325.2 618.8,323.7 619.6,322.1 620.3,320.5 621.1,318.8 621.8,317.0 622.6,315.1 623.3,313.1 624.0,311.1 624.8,309.0 625.5,306.8 626.3,304.6 627.0,302.2 627.8,299.9 628.5,297.5 629.2,295.2 630.0,293.0 630.7,290.8 631.5,288.7 632.2,286.5 633.0,284.4 633.7,282.3 634.4,280.2 635.2,278.1 635.9,276.1 636.7,274.1 637.4,272.1 638.2,270.0 638.9,267.9 639.6,265.8 640.4,263.5 641.1,261.2 641.9,258.9 642.6,256.5 643.4,254.0 644.1,251.4 644.8,248.6 645.6,245.7 646.3,242.7 647.1,239.6 647.8,236.6 648.6,233.6 649.3,230.8 650.0,228.2 650.8,225.7 651.5,223.2 652.3,220.8 653.0,218.5 653.8,216.3 654.5,214.2 655.2,212.3 656.0,210.4 656.7,208.6 657.5,207.0 658.2,205.5 659.0,204.3 659.7,203.2 660.4,202.0 661.2,201.0 661.9,200.2 662.7,199.7 663.4,199.5 664.2,199.6 664.9,199.9 665.6,200.4 666.4,200.9 667.1,201.5 667.9,202.8 668.6,204.9 669.4,207.3 670.1,209.3 670.8,210.7 671.6,212.0 672.3,213.4 673.1,215.2 673.8,217.7 674.6,220.5 675.3,223.6 676.0,226.7 676.8,229.7 677.5,232.5 678.3,235.1 679.0,237.6 679.8,240.1 680.5,242.6 681.2,244.9 682.0,247.2 682.7,249.4 683.5,251.5 684.2,253.5 685.0,255.5 685.7,257.4 686.5,259.2 687.2,261.0 687.9,262.9 688.7,264.7 689.4,266.5 690.2,268.3 690.9,270.1 691.7,271.9 692.4,273.6 693.1,275.3 693.9,276.9 694.6,278.4 695.4,279.8 696.1,281.2 696.9,282.5 697.6,283.9 698.3,285.2 699.1,286.5 699.8,287.9 700.6,289.4 701.3,290.8 702.1,292.3 702.8,293.8 703.5,295.2 704.3,296.7 705.0,298.2 705.8,299.6 706.5,301.0 707.3,302.3 708.0,303.7 708.7,305.0 709.5,306.3 710.2,307.5 711.0,308.8 711.7,310.0 712.5,311.2 713.2,312.4 713.9,313.5 714.7,314.5 715.4,315.5 716.2,316.5 716.9,317.5 717.7,318.5 718.4,319.4 719.1,320.3 719.9,321.1 720.6,321.9 721.4,322.7 722.1,323.4 722.9,324.1 723.6,324.7 724.3,325.3 725.1,325.9 725.8,326.4 726.6,327.0 727.3,327.5 728.1,328.0 728.8,328.5 729.5,328.9 730.3,329.4 731.0,329.8 731.8,330.3 732.5,330.7 733.3,331.1 734.0,331.5 734.7,331.9 735.5,332.3 736.2,332.6 737.0,333.0 737.7,333.3 738.5,333.6 739.2,333.9 739.9,334.2 740.7,334.5 741.4,334.8 742.2,335.1 742.9,335.3 743.7,335.6 744.4,335.9 745.1,336.1 745.9,336.3 746.6,336.6 747.4,336.8 748.1,336.9 748.9,337.1 749.6,337.2 750.3,337.4 751.1,337.5 751.8,337.6 752.6,337.7 753.3,337.8 754.1,337.9 754.8,338.0 755.5,338.1 756.3,338.1 757.0,338.2 757.8,338.3 758.5,338.3 759.3,338.3 760.0,338.4 760.8,338.4 761.5,338.5 762.2,338.5 763.0,338.5 763.7,338.6 764.5,338.6 765.2,338.6 766.0,338.6 766.7,338.7 767.4,338.7 768.2,338.7 768.9,338.8 769.7,338.8 770.4,338.8 771.2,338.8 771.9,338.8 772.6,338.8 773.4,338.9 774.1,338.9 774.9,338.9 775.6,338.9 776.4,338.9 777.1,338.9 777.8,338.9 778.6,338.9 779.3,338.9 780.1,338.9 780.8,338.9 781.6,338.9 782.3,338.9 783.0,338.9 783.8,338.9 784.5,338.9 785.3,338.9 786.0,338.9 786.8,338.9 787.5,338.9 788.2,338.9 789.0,338.9 789.7,338.9 790.5,338.9 791.2,338.9 792.0,338.9 792.7,338.9 793.4,338.9 794.2,338.9 794.9,338.9 795.7,338.9 796.4,338.9 797.2,338.9 797.9,338.9 798.6,338.9 799.4,338.9 800.1,338.9 800.9,338.9 801.6,338.9 802.4,338.9 803.1,338.9 803.8,338.9 804.6,338.9 805.3,338.9 806.1,338.9 806.8,338.9 807.6,338.9 808.3,338.9 809.0,338.9 809.8,338.9 810.5,338.9 811.3,338.9 812.0,338.9 812.8,338.9 813.5,338.9 814.2,338.9 815.0,338.9 815.7,338.9 816.5,338.9 817.2,338.9 818.0,338.9 818.7,338.9 819.4,338.9 820.2,338.9 820.9,338.9 821.7,338.9 822.4,338.9 823.2,338.9 823.9,338.9 824.6,338.9 825.4,338.9 826.1,338.9 826.9,338.9 827.6,338.9 828.4,338.9 829.1,338.9 829.9,338.9 830.6,338.9 831.3,338.9 832.1,338.9 832.8,338.9 833.6,338.9 834.3,338.9 835.1,338.9 835.8,338.9 836.5,338.9 837.3,338.9 838.0,338.9 838.8,338.9 839.5,338.9 840.3,338.9 841.0,338.9 841.7,338.9 842.5,338.9 843.2,338.9 844.0,338.9 844.7,338.9 845.5,338.9 846.2,338.9 846.9,338.9 847.7,338.9 848.4,338.9 849.2,338.9 849.9,338.9 850.7,338.9 851.4,338.9 852.1,338.9 852.9,338.9 853.6,338.9 854.4,338.9 855.1,338.9 855.9,338.9 856.6,338.9 857.3,338.9 858.1,338.9 858.8,338.9 859.6,338.9" fill="none" stroke="#def514" stroke-width="3.0" stroke-linejoin="round" stroke-linecap="round"/>
<text x="462.5" y="22.5" class="pl">(b)</text>
<text x="681.5" y="380.5" text-anchor="middle" class="al">Wavelength (nm)</text>
<text transform="translate(445.2,210.4) rotate(-90)" text-anchor="middle" class="al">Intensity (a.u.)</text>
<line x1="787.8" y1="69.8" x2="818.5" y2="69.8" stroke="#2dd2a8" stroke-width="3.2" stroke-linecap="round"/>
<text x="822.8" y="74.5" class="lg">Ether</text>
<line x1="787.8" y1="87.3" x2="818.5" y2="87.3" stroke="#14e65c" stroke-width="3.2" stroke-linecap="round"/>
<text x="822.8" y="92.0" class="lg">DCM</text>
<line x1="787.8" y1="104.8" x2="818.5" y2="104.8" stroke="#92e014" stroke-width="3.2" stroke-linecap="round"/>
<text x="822.8" y="109.5" class="lg">ACN</text>
<line x1="787.8" y1="122.3" x2="818.5" y2="122.3" stroke="#def514" stroke-width="3.2" stroke-linecap="round"/>
<text x="822.8" y="127.0" class="lg">MeOH</text>
</svg>
<svg class="abs" width="1166" height="389" viewBox="0 0 1166 389">
<text x="871.6" y="22.5" class="pl">(c)</text>
<g stroke="#4a4a4a" stroke-width="1.45" fill="none" stroke-linecap="round">
<!-- benzene -->
<polyline points="962.9,42.2 983.2,51.6 984,72.3 967,83.6 948,75.9 946.2,54.3 962.9,42.2"/>
<line x1="950.3" y1="57" x2="951.8" y2="73.5"/>
<line x1="964" y1="46.8" x2="979.5" y2="54"/>
<line x1="967.2" y1="79.2" x2="980.2" y2="70.5"/>
<!-- NMe2 -->
<line x1="948" y1="75.9" x2="938.2" y2="82.3"/>
<line x1="924.1" y1="83.3" x2="912.8" y2="78.4"/>
<line x1="932.6" y1="95.6" x2="934" y2="108.1"/>
<!-- biaryl -->
<line x1="983.2" y1="51.6" x2="999.1" y2="39.3"/>
<!-- pyrrole -->
<polyline points="999.1,39.3 998.7,18.1 1018.3,11.3 1030.2,28.8"/>
<line x1="1002.6" y1="21.5" x2="1002.9" y2="36.2"/>
<line x1="1017.6" y1="15.8" x2="1026.8" y2="28.4"/>
<line x1="999.1" y1="39.3" x2="1012" y2="43.1"/>
<line x1="1030.2" y1="28.8" x2="1023.2" y2="39"/>
<!-- pyridine -->
<line x1="1030.2" y1="28.8" x2="1051.7" y2="30.6"/>
<polyline points="1051.7,30.6 1059.5,49.5 1048.2,66 1026.3,63.2 1022.6,54.3"/>
<line x1="1049" y1="34.6" x2="1055.7" y2="48.6"/>
<line x1="1029.6" y1="60.6" x2="1046" y2="62.6"/>
<!-- ester -->
<line x1="1059.5" y1="49.5" x2="1080.9" y2="51.7"/>
<line x1="1080.9" y1="51.7" x2="1088.6" y2="40.2"/>
<line x1="1078.6" y1="49.6" x2="1085.9" y2="38.9"/>
<line x1="1080.9" y1="51.7" x2="1085" y2="64"/>
</g>
<text x="931.2" y="91.9" text-anchor="middle" class="at">N</text>
<text x="1018.3" y="49" text-anchor="middle" class="at">N</text>
<text x="1092.2" y="39.9" text-anchor="middle" class="at2">O</text>
<text x="1083.3" y="75.3" class="at2" textLength="25" lengthAdjust="spacingAndGlyphs">OEt</text>
<text x="1010.5" y="111.9" text-anchor="middle" class="nine">9</text>
</svg>

<svg class="abs" width="1166" height="389" viewBox="0 0 1166 389">
<defs>
<linearGradient id="gE" x1="0" y1="127" x2="0" y2="365" gradientUnits="userSpaceOnUse">
<stop offset="0" stop-color="#1cc49c"/><stop offset="0.3" stop-color="#1ec8a4"/><stop offset="0.55" stop-color="#20d6b6"/><stop offset="0.75" stop-color="#2ce6ca"/><stop offset="1" stop-color="#3cf0da"/></linearGradient>
<linearGradient id="gD" x1="0" y1="127" x2="0" y2="365" gradientUnits="userSpaceOnUse">
<stop offset="0" stop-color="#4acc58"/><stop offset="0.3" stop-color="#46c858"/><stop offset="0.55" stop-color="#4cd460"/><stop offset="0.75" stop-color="#5adf70"/><stop offset="1" stop-color="#68ec82"/></linearGradient>
<linearGradient id="gA" x1="0" y1="127" x2="0" y2="365" gradientUnits="userSpaceOnUse">
<stop offset="0" stop-color="#86d40a"/><stop offset="0.3" stop-color="#86d406"/><stop offset="0.55" stop-color="#92dc06"/><stop offset="0.75" stop-color="#a0e808"/><stop offset="1" stop-color="#aaf010"/></linearGradient>
<linearGradient id="gM" x1="0" y1="127" x2="0" y2="365" gradientUnits="userSpaceOnUse">
<stop offset="0" stop-color="#c6e014"/><stop offset="0.3" stop-color="#bedc08"/><stop offset="0.55" stop-color="#cdec08"/><stop offset="0.75" stop-color="#e0f80a"/><stop offset="1" stop-color="#f2ff10"/></linearGradient>
<filter id="bl" x="-10%" y="-10%" width="120%" height="120%"><feGaussianBlur stdDeviation="0.6"/></filter>
<filter id="bl2" x="-10%" y="-30%" width="120%" height="160%"><feGaussianBlur stdDeviation="0.9"/></filter>
</defs>
<rect x="895.3" y="126.9" width="64.7" height="238.7" fill="url(#gE)"/>
<rect x="960" y="126.9" width="69.5" height="238.7" fill="url(#gD)"/>
<rect x="1029.5" y="126.9" width="64" height="238.7" fill="url(#gA)"/>
<rect x="1093.5" y="126.9" width="67.5" height="238.7" fill="url(#gM)"/>
<g filter="url(#bl)">
<!-- walls -->
<rect x="895.3" y="127" width="2" height="238.5" fill="#6ff0d8" opacity="0.5"/>
<rect x="960" y="127" width="5" height="238.5" fill="#40c250" opacity="0.75"/>
<rect x="1024" y="127" width="5.5" height="238.5" fill="#40c250" opacity="0.75"/>
<rect x="1029.5" y="127" width="5" height="238.5" fill="#7cc804" opacity="0.75"/>
<rect x="1088.5" y="127" width="5" height="238.5" fill="#7cc804" opacity="0.75"/>
<rect x="1093.5" y="127" width="4.5" height="238.5" fill="#b0cc04" opacity="0.7"/>
<rect x="1156" y="127" width="5" height="238.5" fill="#c0dc04" opacity="0.6"/>
<rect x="1034" y="359.5" width="54.5" height="6" fill="#8cd600" opacity="0.7"/>
<rect x="897" y="349" width="63" height="5" fill="#5cfae6" opacity="0.35"/>
<rect x="960" y="127" width="69.5" height="1.2" fill="#203020" opacity="0.8"/>
<!-- Ether meniscus -->
<path d="M896.5,129.5 H957 V148 C957,158 952,162 942,162 H911 C901,162 896.5,158 896.5,148 Z" fill="#0e8a6c" opacity="0.6"/>
<path d="M902,129.8 H951 V132.8 H902 Z" fill="#0a2c20"/>
<path d="M898,137.3 H955.5 V146 C955.5,154 951,157.5 942,157.5 H911 C902,157.5 898,154 898,146 Z" fill="#0a2c20"/>
<path d="M900,141.2 H953" stroke="#2a9a60" stroke-width="1.2" opacity="0.7"/>
<path d="M900,146.8 H954" stroke="#1e7a4a" stroke-width="1" opacity="0.6"/>
<path d="M896,155.5 C898,162.5 904,165.6 914,165.6 H940 C950,165.6 955.5,162.5 957.5,155.5 C954,159.8 949,161.4 940,161.4 H914 C905,161.4 899,160 896,155.5 Z" fill="#d6fff6" opacity="0.95"/>
<!-- DCM meniscus -->
<path d="M965.5,130.5 H1022.5 V145 C1022.5,152 1018,156 1008,156 H980 C970,156 965.5,152 965.5,145 Z" fill="#2ea83a" opacity="0.6"/>
<path d="M968.3,132.3 H1020.9 V137 C1020.9,139 1019,139.5 1017,139.5 H972 C970,139.5 968.3,139 968.3,137 Z" fill="#041404"/>
<path d="M973,145.2 H1016 V147.5 C1016,150 1013,151.4 1009,151.4 H980 C976,151.4 973,150 973,147.5 Z" fill="#082008"/>
<path d="M966.7,149 C968,156 975,158.8 985,158.8 H1004 C1014,158.8 1020,156 1021.5,149.5 C1019,152.8 1013,154 1004,154 H985 C975,154 969,152.8 966.7,149 Z" fill="#f2fff2"/>
<!-- ACN meniscus -->
<path d="M1036.7,129.6 H1091.7 V142 C1091.7,152 1085,156 1074,156 H1054 C1043,156 1036.7,152 1036.7,142 Z" fill="#5aa800" opacity="0.55"/>
<path d="M1040.3,132.2 H1088.1 V141 C1088.1,149 1083,152.7 1073,152.7 H1055 C1045,152.7 1040.3,149 1040.3,141 Z" fill="#030902"/>
<path d="M1038.2,151.7 C1040,158.5 1047,162 1058,162 H1071 C1082,162 1089,158.5 1090.7,151.7 C1087,155.5 1081,156.3 1071,156.3 H1058 C1048,156.3 1041.5,155.5 1038.2,151.7 Z" fill="#f6ffcc"/>
<!-- MeOH meniscus -->
<path d="M1098.5,129 H1157 V145 C1157,152 1153,155 1145,155 H1111 C1102,155 1098.5,152 1098.5,145 Z" fill="#a0b800" opacity="0.45"/>
<path d="M1100.2,129.8 H1155.7 V133.8 H1100.2 Z" fill="#2a1a0e" opacity="0.9"/>
<path d="M1104.3,139.4 H1153.7 V146 C1153.7,150 1150,152.2 1145,152.2 H1113 C1107,152.2 1104.3,150 1104.3,146 Z" fill="#2a320e"/>
<path d="M1108,145.3 H1150" stroke="#50601c" stroke-width="1.6" opacity="0.8"/>
<path d="M1099.7,153.3 C1101,158 1106,160 1114,160 H1142 C1150,160 1154.5,158 1155.7,153.3 C1152,156 1148,156.3 1142,156.3 H1114 C1107,156.3 1102.5,156 1099.7,153.3 Z" fill="#fcffe0"/>
</g>
<g font-family="Liberation Sans, sans-serif" font-weight="bold" font-size="21" fill="#fff">
<text x="902" y="196.1">Ether</text>
<text x="968.3" y="196.1">DCM</text>
<text x="1038" y="196.1">ACN</text>
<text x="1099" y="196.1">MeOH</text>
</g>
</svg>

</body></html>
